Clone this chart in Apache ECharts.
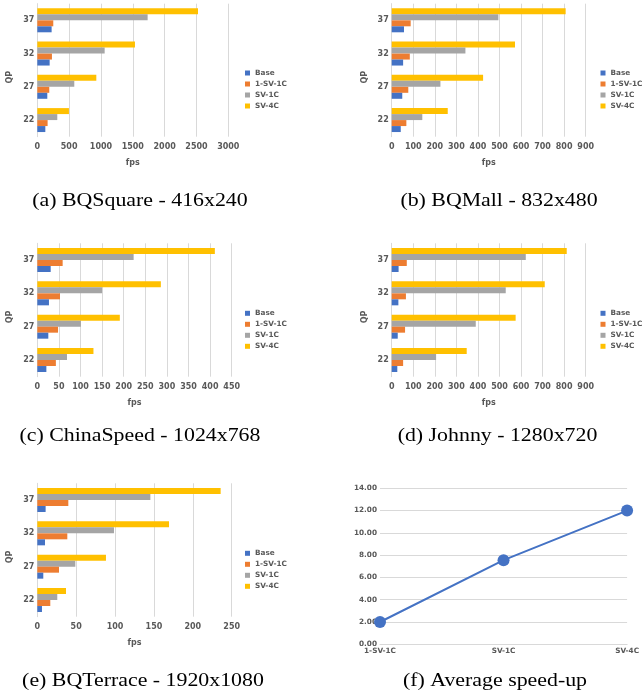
<!DOCTYPE html>
<html><head><meta charset="utf-8">
<script src="https://cdn.jsdelivr.net/npm/echarts@6/dist/echarts.min.js"></script>
<style>html,body{margin:0;padding:0;background:#fff}#c{width:642px;height:694px}</style>
</head><body><div id="c"></div>
<script>
// ---------- data ----------
const qpCategories = ['22', '27', '32', '37'];
const seriesNames = ['Base', '1-SV-1C', 'SV-1C', 'SV-4C'];

// (a) BQSquare - 416x240
const bqsquareBase   = [126, 157, 194, 225];
const bqsquare1SV1C  = [162, 188, 230, 251];
const bqsquareSV1C   = [314, 581, 1058, 1733];
const bqsquareSV4C   = [497, 927, 1534, 2524];

// (b) BQMall - 832x480
const bqmallBase  = [42, 49, 53, 57];
const bqmall1SV1C = [68, 77, 84, 88];
const bqmallSV1C  = [142, 226, 342, 495];
const bqmallSV4C  = [260, 424, 572, 807];

// (c) ChinaSpeed - 1024x768
const chinaBase  = [21, 25.5, 27, 31];
const china1SV1C = [43, 48, 52.5, 58.7];
const chinaSV1C  = [68.7, 101, 150, 223];
const chinaSV4C  = [130, 191, 286, 411];

// (d) Johnny - 1280x720
const johnnyBase  = [26, 28, 31, 32];
const johnny1SV1C = [53, 62, 66, 70];
const johnnySV1C  = [206, 390, 529, 622];
const johnnySV4C  = [348, 575, 710, 812];

// (e) BQTerrace - 1920x1080
const terraceBase  = [6, 7.7, 9.9, 10.7];
const terrace1SV1C = [16.7, 27.9, 38.6, 39.9];
const terraceSV1C  = [25.7, 48.9, 98.6, 145.4];
const terraceSV4C  = [36.9, 88.3, 169.4, 235.8];

// (f) Average speed-up
const speedupCategories = ['1-SV-1C', 'SV-1C', 'SV-4C'];
const speedupValues = [2.0, 7.55, 12.0];

const captions = [
  '(a) BQSquare - 416x240', '(b) BQMall - 832x480',
  '(c) ChinaSpeed - 1024x768', '(d) Johnny - 1280x720',
  '(e) BQTerrace - 1920x1080', '(f) Average speed-up'
];
const fpsAxisMax = [3000, 900, 450, 900, 250];
const fpsAxisInterval = [500, 100, 50, 100, 50];

// ---------- styling / layout ----------
const colors = {'Base': '#4472C4', '1-SV-1C': '#ED7D31', 'SV-1C': '#A5A5A5', 'SV-4C': '#FFC000'};
const panelData = [
  [bqsquareBase, bqsquare1SV1C, bqsquareSV1C, bqsquareSV4C],
  [bqmallBase, bqmall1SV1C, bqmallSV1C, bqmallSV4C],
  [chinaBase, china1SV1C, chinaSV1C, chinaSV4C],
  [johnnyBase, johnny1SV1C, johnnySV1C, johnnySV4C],
  [terraceBase, terrace1SV1C, terraceSV1C, terraceSV4C]
];
const grids = [
  {left: 37.3, top: 3.7, width: 191, height: 133},
  {left: 391.7, top: 3.7, width: 194, height: 133},
  {left: 37.3, top: 243.3, width: 194.4, height: 133.4},
  {left: 391.7, top: 243.3, width: 194, height: 133.4},
  {left: 37.3, top: 483.3, width: 194.4, height: 133.4},
  {left: 380, top: 488.3, width: 251, height: 156}
];
const legendPos = [
  {left: 245, top: 68.5}, {left: 600.5, top: 68.5},
  {left: 245, top: 308.8}, {left: 600.5, top: 308.8},
  {left: 245, top: 548.8}
];
const captionPos = [[140, 200.7], [499, 200.7], [140, 435.7], [497.5, 435.7], [143, 681], [495, 681]];

const FONT = 'DejaVu Sans';
const TXT = '#595959';
const GRIDC = '#D9D9D9';

const option = {
  animation: false,
  backgroundColor: '#fff',
  grid: grids.map(g => Object.assign({containLabel: false}, g)),
  legend: legendPos.map(p => ({
    left: p.left, top: p.top, orient: 'vertical', padding: 0,
    itemWidth: 5, itemHeight: 5, itemGap: 2, icon: 'rect',
    data: seriesNames,
    textStyle: {fontFamily: FONT, fontSize: 7.3, fontWeight: 'bold', color: TXT, lineHeight: 9}
  })),
  xAxis: [],
  yAxis: [],
  series: [],
  graphic: captions.map((t, i) => ({
    type: 'text', x: captionPos[i][0], y: captionPos[i][1], scaleX: 1.15,
    style: {text: t, font: '19px "Liberation Serif"', fill: '#000', textAlign: 'center', textVerticalAlign: 'middle'}
  }))
};

for (let i = 0; i < 5; i++) {
  option.xAxis.push({
    type: 'value', gridIndex: i, min: 0, max: fpsAxisMax[i], interval: fpsAxisInterval[i],
    name: 'fps', nameLocation: 'middle', nameGap: 22,
    nameTextStyle: {fontFamily: FONT, fontSize: 8, fontWeight: 'bold', color: TXT},
    axisLine: {show: false}, axisTick: {show: false},
    axisLabel: {fontFamily: FONT, fontSize: 8, fontWeight: 'bold', color: TXT, margin: 6,
      formatter: v => String(v)},
    splitLine: {show: true, lineStyle: {color: GRIDC, width: 1}}
  });
  option.yAxis.push({
    type: 'category', gridIndex: i, data: qpCategories,
    name: 'QP', nameLocation: 'middle', nameRotate: 90, nameGap: 23,
    nameTextStyle: {fontFamily: FONT, fontSize: 8, fontWeight: 'bold', color: TXT, padding: [0, 14, 0, 0]},
    axisLine: {show: true, lineStyle: {color: GRIDC}}, axisTick: {show: false},
    axisLabel: {fontFamily: FONT, fontSize: 8, fontWeight: 'bold', color: TXT, margin: 3},
    splitLine: {show: false}
  });
  // order so that SV-4C is on top within each category
  const order = [3, 2, 1, 0];
  order.forEach(k => {
    option.series.push({
      type: 'bar', name: seriesNames[k], xAxisIndex: i, yAxisIndex: i,
      data: panelData[i][k], barGap: '0%', barCategoryGap: '28%',
      itemStyle: {color: colors[seriesNames[k]]}
    });
  });
}

// (f) line panel
option.xAxis.push({
  type: 'category', gridIndex: 5, data: speedupCategories, boundaryGap: false,
  axisLine: {show: true, lineStyle: {color: GRIDC}}, axisTick: {show: false},
  axisLabel: {fontFamily: FONT, fontSize: 7.3, fontWeight: 'bold', color: TXT, margin: 3}
});
option.yAxis.push({
  type: 'value', gridIndex: 5, min: 0, max: 14, interval: 2,
  axisLine: {show: false}, axisTick: {show: false},
  axisLabel: {fontFamily: FONT, fontSize: 7.3, fontWeight: 'bold', color: TXT, margin: 3,
    formatter: v => v.toFixed(2)},
  splitLine: {show: true, lineStyle: {color: GRIDC}}
});
option.series.push({
  type: 'line', name: 'speed-up', xAxisIndex: 5, yAxisIndex: 5, data: speedupValues,
  symbol: 'circle', symbolSize: 12,
  lineStyle: {color: '#4472C4', width: 2}, itemStyle: {color: '#4472C4'}
});

const chart = echarts.init(document.getElementById('c'), null, {renderer: 'canvas'});
chart.setOption(option);
</script>
</body></html>
